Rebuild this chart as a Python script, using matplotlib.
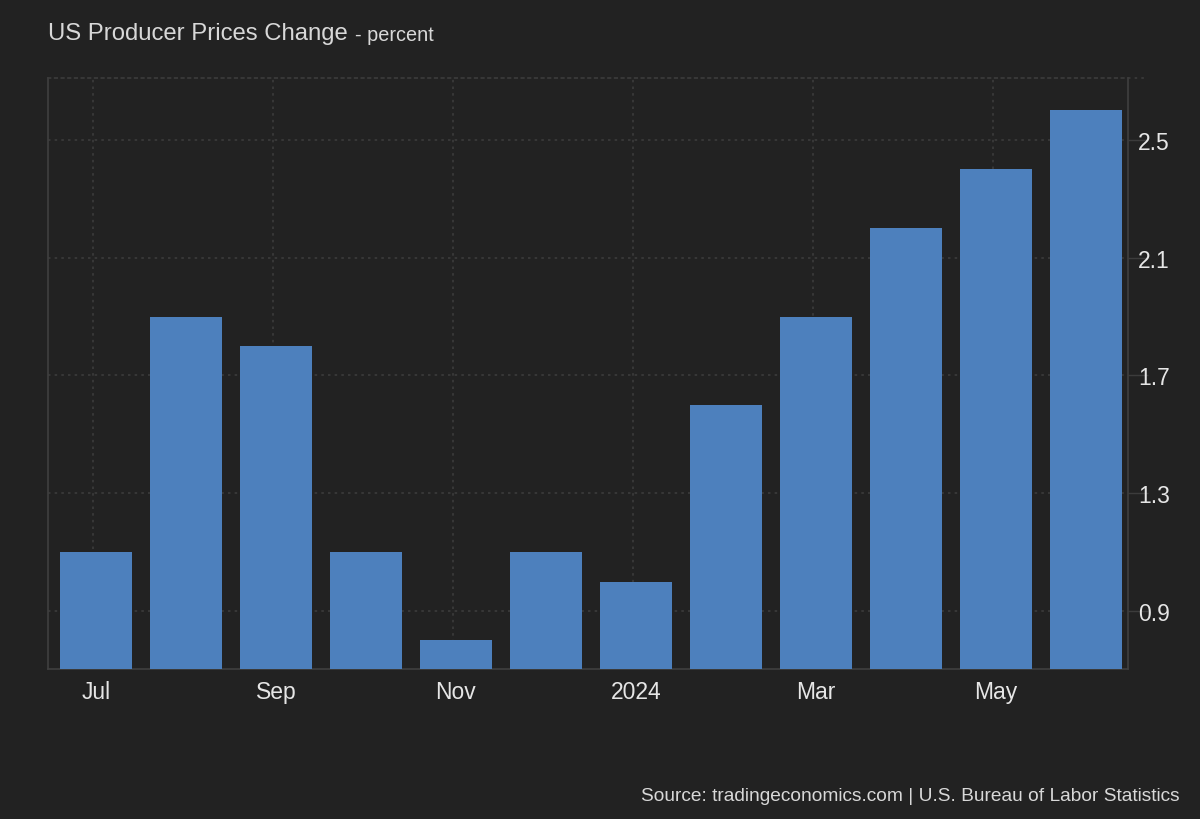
import matplotlib
matplotlib.use("Agg")
import matplotlib.pyplot as plt
from matplotlib.ticker import FixedLocator

plt.rcParams['font.family'] = ['Liberation Sans', 'DejaVu Sans']

months = ["Jul", "Aug", "Sep", "Oct", "Nov", "Dec", "Jan", "Feb", "Mar", "Apr", "May", "Jun"]
values = [1.1, 1.9, 1.8, 1.1, 0.8, 1.1, 1.0, 1.6, 1.9, 2.2, 2.4, 2.6]
tick_labels = ["Jul", "Sep", "Nov", "2024", "Mar", "May"]
tick_idx = [0, 2, 4, 6, 8, 10]
y_ticks = [0.9, 1.3, 1.7, 2.1, 2.5]

BG = "#222222"
BAR = "#4d80bd"
GRID = "#3c3c3c"
SPINE = "#3f3f3f"
TXT = "#e6e6e6"

fig = plt.figure(figsize=(12, 8.2), dpi=100, facecolor=BG)
ax = fig.add_axes([0.04, 0.1829, 0.90, 0.7208], facecolor=BG)

x = list(range(len(values)))
ax.bar(x, values, width=0.8, color=BAR, zorder=3)

ax.set_xlim(-0.533, len(values) - 1 + 0.467)
ax.set_ylim(0.703, 2.71)

ax.xaxis.set_major_locator(FixedLocator(tick_idx))
ax.set_xticklabels(tick_labels)
# vertical grid lines sit at month starts, slightly left of bar centres
ax.xaxis.set_minor_locator(FixedLocator([i - 0.035 for i in tick_idx]))
ax.yaxis.set_major_locator(FixedLocator(y_ticks))
ax.set_yticklabels([f"{v:.1f}" for v in y_ticks])
ax.yaxis.tick_right()

ax.tick_params(axis='x', which='major', length=0, pad=8, labelsize=16.5, labelcolor=TXT)
ax.tick_params(axis='x', which='minor', length=0)
ax.tick_params(axis='y', length=14.4, width=1, color=GRID, pad=-7.2, labelsize=16.5, labelcolor=TXT)
for lbl in ax.get_yticklabels():
    lbl.set_horizontalalignment('left')

dots = (0, (1.5, 2.5))
ax.grid(True, axis='y', which='major', color=GRID, linestyle=dots, linewidth=1.2, zorder=0)
ax.grid(True, axis='x', which='minor', color=GRID, linestyle=dots, linewidth=1.2, zorder=0)
ax.grid(False, axis='x', which='major')

for side in ['left', 'bottom', 'right']:
    ax.spines[side].set_color(SPINE)
    ax.spines[side].set_linewidth(1.2)
ax.spines['top'].set_color(GRID)
ax.spines['top'].set_linestyle(dots)
ax.spines['top'].set_linewidth(1.2)

# top dotted line extends beyond the right spine
ax.plot([1.0, 1.0185], [1.0, 1.0], transform=ax.transAxes, color=GRID,
        linestyle=dots, linewidth=1.2, clip_on=False)

fig.text(0.04, 0.9585, "US Producer Prices Change", fontsize=17.2, color="#d8d8d8",
         ha='left', va='center')
fig.text(0.296, 0.9565, "- percent", fontsize=14.3, color="#d8d8d8", ha='left', va='center')

fig.text(0.983, 0.029, "Source: tradingeconomics.com | U.S. Bureau of Labor Statistics",
         fontsize=13.75, color="#d8d8d8", ha='right', va='center')

fig.savefig("out.png", dpi=100, facecolor=BG)
